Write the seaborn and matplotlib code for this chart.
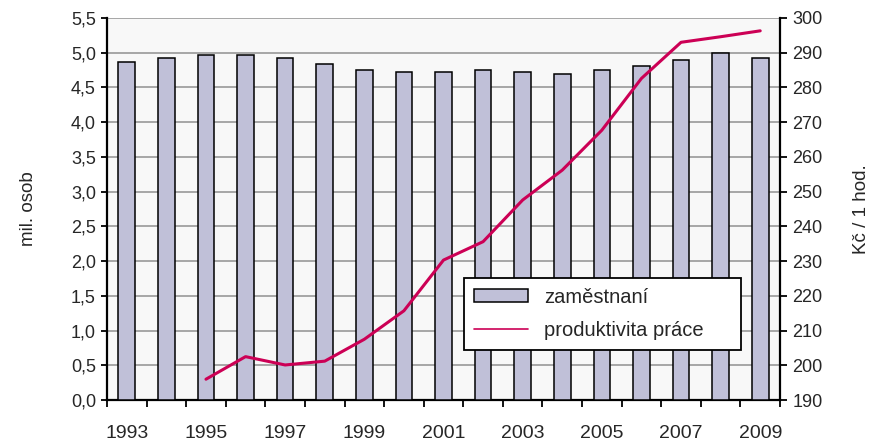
import numpy as np
import pandas as pd
import matplotlib
matplotlib.use("Agg")
import matplotlib.pyplot as plt
import seaborn as sns
from matplotlib.patches import Patch
from matplotlib.lines import Line2D
from matplotlib.ticker import FuncFormatter, MultipleLocator

# data
years = list(range(1993, 2010))
zamestnani = [4.87, 4.93, 4.96, 4.96, 4.93, 4.84, 4.75, 4.72, 4.72, 4.75,
              4.72, 4.69, 4.75, 4.81, 4.90, 4.99, 4.93]
prod_years = list(range(1995, 2010))
produktivita = [196.0, 202.5, 200.1, 201.2, 207.5, 215.7, 230.3, 235.6,
                247.6, 256.2, 267.7, 282.6, 293.0, 294.6, 296.3]

bar_color = "#C0C0D8"
line_color = "#CC0055"

sns.set_style("white")
plt.rcParams["font.family"] = ["Liberation Sans", "DejaVu Sans"]

fig = plt.figure(figsize=(8.72, 4.45), dpi=100)
ax = fig.add_axes([0.1227, 0.101, 0.7718, 0.8586])
ax.set_facecolor("#F8F8F8")

df_bar = pd.DataFrame({"rok": years, "zam": zamestnani})
sns.barplot(data=df_bar, x="rok", y="zam", native_scale=True, width=0.42,
            color=bar_color, edgecolor="black", linewidth=1.1, saturation=1,
            ax=ax, zorder=3)

ax.set_xlim(1992.5, 2009.5)
ax.set_ylim(0, 5.5)
ax.yaxis.set_major_locator(MultipleLocator(0.5))
ax.yaxis.set_major_formatter(FuncFormatter(lambda v, p: f"{v:.1f}".replace(".", ",")))
ax.grid(axis="y", color="#A0A0A0", linewidth=1.3, zorder=0)
ax.set_axisbelow(True)

ax.set_xticks(list(range(1993, 2010, 2)))
ax.set_xticklabels([str(y) for y in range(1993, 2010, 2)])
ax.set_xticks(np.arange(1992.5, 2010, 1), minor=True)
ax.tick_params(axis="x", which="major", length=0, pad=18, labelsize=14)
ax.tick_params(axis="x", which="minor", length=5, width=1.3, direction="out",
               color="black", bottom=True)
ax.tick_params(axis="y", length=4, width=1.3, color="black", left=True,
               labelsize=13, pad=4)
ax.set_xlabel("")
ax.set_ylabel("mil. osob", fontsize=13.5, labelpad=24)

for side in ["left", "bottom"]:
    ax.spines[side].set_color("black")
    ax.spines[side].set_linewidth(1.6)
ax.spines["top"].set_visible(False)
ax.spines["right"].set_visible(False)

ax2 = ax.twinx()
df_line = pd.DataFrame({"rok": prod_years, "prod": produktivita})
sns.lineplot(data=df_line, x="rok", y="prod", color=line_color, linewidth=2.2,
             ax=ax2, zorder=4)
ax2.set_ylim(190, 300)
ax2.yaxis.set_major_locator(MultipleLocator(10))
ax2.tick_params(axis="y", length=5, width=1.3, color="black", right=True,
                labelsize=13, pad=4)
ax2.set_ylabel("Kč / 1 hod.", fontsize=13.5, labelpad=22)
ax2.set_xlabel("")
ax2.spines["right"].set_color("black")
ax2.spines["right"].set_linewidth(1.6)
for side in ["left", "top", "bottom"]:
    ax2.spines[side].set_visible(False)

handles = [Patch(facecolor=bar_color, edgecolor="black", linewidth=1.1),
           Line2D([0], [0], color=line_color, linewidth=1.2)]
leg = ax2.legend(handles, ["zaměstnaní", "produktivita práce"],
                 loc="lower left", bbox_to_anchor=(0.53, 0.131, 0.412, 0.204),
                 mode="expand", borderaxespad=0, fontsize=14.5, frameon=True,
                 fancybox=False, framealpha=1, edgecolor="black",
                 borderpad=0.5, labelspacing=0.7, handlelength=2.7,
                 handleheight=0.6, handletextpad=0.8)
leg.get_frame().set_linewidth(1.3)

fig.savefig("out.png", dpi=100)
